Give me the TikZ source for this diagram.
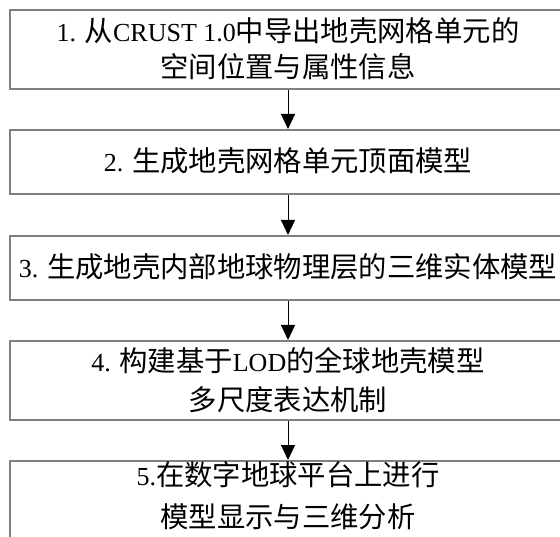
\documentclass[tikz,border=0pt]{standalone}
\usepackage{fontspec}
\setmainfont{Liberation Serif}
\newfontfamily\cjk{Noto Sans CJK SC}[Scale=1.09]
\newcommand{\zh}[1]{{\cjk #1}}
\usetikzlibrary{arrows.meta}
\tikzset{
  box/.style={draw=black!50, line width=1.8pt, rectangle, minimum width=556pt,
    anchor=north, align=center, inner sep=0pt, font=\fontsize{26}{36}\selectfont},
  arr/.style={draw=black, line width=1pt, -{Triangle[width=14pt,length=15pt]}}
}
\begin{document}
\begin{tikzpicture}[x=1pt,y=1pt]
\useasboundingbox (0,0) rectangle (560,-537);
\clip (0,0) rectangle (560,-537);
\fill[white] (0,0) rectangle (560,-537);
\node[box, minimum height=79pt, text height=60pt, text depth=3.4pt] (b1) at (288,-9)
  {1. \zh{从}CRUST 1.0\zh{中导出地壳网格单元的}\\ \zh{空间位置与属性信息}};
\node[box, minimum height=64pt, text height=25pt, text depth=6.4pt] (b2) at (288,-129)
  {2. \zh{生成地壳网格单元顶面模型}};
\node[box, minimum height=64pt, text height=25pt, text depth=6.4pt] (b3) at (288,-235)
  {3. \zh{生成地壳内部地球物理层的三维实体模型}};
\node[box, minimum height=79pt, text height=64pt, text depth=3.4pt,
  font=\fontsize{26}{39}\selectfont] (b4) at (288,-340)
  {4. \zh{构建基于}LOD\zh{的全球地壳模型}\\ \zh{多尺度表达机制}};
\node[box, minimum height=80pt, text height=57pt, text depth=3.4pt,
  font=\fontsize{26}{42}\selectfont] (b5) at (288,-460)
  {5.\zh{在数字地球平台上进行}\\ \zh{模型显示与三维分析}};
\draw[arr] (b1.south) -- (b2.north);
\draw[arr] (b2.south) -- (b3.north);
\draw[arr] (b3.south) -- (b4.north);
\draw[arr] (b4.south) -- (b5.north);
\end{tikzpicture}
\end{document}
